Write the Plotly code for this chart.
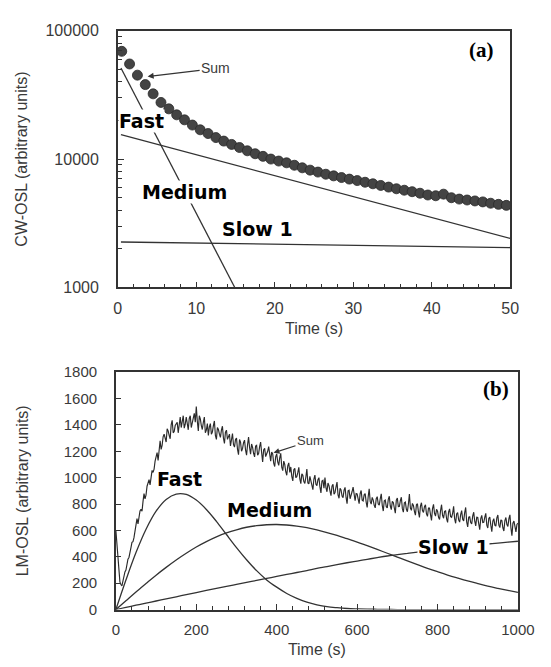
import plotly.graph_objects as go
from plotly.subplots import make_subplots

# ---------------- Panel (a): CW-OSL ----------------
cw_time = [0.5, 1.5, 2.5, 3.5, 4.5, 5.5, 6.5, 7.5, 8.5, 9.5,
           10.5, 11.5, 12.5, 13.5, 14.5, 15.5, 16.5, 17.5, 18.5, 19.5,
           20.5, 21.5, 22.5, 23.5, 24.5, 25.5, 26.5, 27.5, 28.5, 29.5,
           30.5, 31.5, 32.5, 33.5, 34.5, 35.5, 36.5, 37.5, 38.5, 39.5,
           40.5, 41.5, 42.5, 43.5, 44.5, 45.5, 46.5, 47.5, 48.5, 49.5]
cw_sum = [69000, 55000, 45000, 38000, 32200, 27600, 24600, 22100, 20200, 18400,
          16900, 15800, 14700, 13800, 13000, 12300, 11600, 11000, 10500, 10000,
          9650, 9350, 8950, 8550, 8200, 7920, 7620, 7400, 7180, 6980,
          6800, 6600, 6420, 6230, 6050, 5870, 5720, 5570, 5420, 5250,
          5180, 5330, 5000, 4880, 4800, 4720, 4640, 4530, 4440, 4360]
cw_fast_t = [0.4, 14.9]
cw_fast_v = [51200, 1000]
cw_med_t = [0.4, 50]
cw_med_v = [15500, 2410]
cw_slow_t = [0.4, 50]
cw_slow_v = [2260, 2047]

# ---------------- Panel (b): LM-OSL ----------------
lm_comp_t = [0, 25, 50, 75, 100, 125, 150, 175, 200, 225, 250, 275, 300, 325, 350,
             375, 400, 425, 450, 475, 500, 525, 550, 575, 600, 625, 650, 675, 700,
             725, 750, 775, 800, 825, 850, 875, 900, 925, 950, 975, 1000]
lm_fast = [0, 224, 432, 609, 746, 835, 876, 873, 830, 759, 669, 569, 470, 378, 295,
           225, 170, 122, 85, 56, 36, 22, 14, 8, 5, 3, 2, 1, 0,
           0, 0, 0, 0, 0, 0, 0, 0, 0, 0, 0, 0]
lm_medium = [0, 67, 134, 198, 261, 320, 376, 427, 474, 515, 551, 581, 605, 624, 636,
             643, 645, 641, 633, 621, 604, 584, 562, 537, 512, 484, 456, 427, 398,
             369, 341, 313, 287, 262, 239, 217, 197, 178, 161, 145, 130]
lm_slow = [0, 16, 33, 49, 65, 81, 97, 113, 129, 145, 160, 176, 191, 206, 221,
           236, 251, 266, 281, 296, 312, 326, 341, 355, 368, 381, 394, 406, 416,
           426, 436, 446, 455, 464, 473, 481, 489, 497, 504, 511, 518]

# measured sum, one reading every 2.5 s from 0 to 1000 s
lm_sum_t = [i * 2.5 for i in range(401)]
lm_sum = [
    600, 480, 375, 290, 210, 190, 180, 215, 265, 285, 300, 350, 382, 395, 422, 470, 510, 515, 545, 600,
    645, 690, 650, 715, 748, 760, 745, 820, 880, 840, 870, 935, 970, 985, 945, 1030, 1055, 1040, 1065, 1125,
    1175, 1190, 1130, 1235, 1280, 1215, 1245, 1310, 1330, 1300, 1270, 1370, 1355, 1320, 1295, 1400, 1435, 1340, 1350, 1395,
    1410, 1420, 1340, 1395, 1460, 1380, 1430, 1470, 1375, 1405, 1460, 1395, 1363, 1450, 1470, 1380, 1412, 1450, 1487, 1420,
    1540, 1430, 1355, 1470, 1445, 1395, 1365, 1420, 1460, 1340, 1360, 1410, 1320, 1385, 1410, 1330, 1345, 1395, 1430, 1320,
    1290, 1380, 1365, 1330, 1305, 1360, 1390, 1300, 1260, 1345, 1360, 1290, 1315, 1330, 1240, 1300, 1335, 1250, 1232, 1290,
    1300, 1215, 1175, 1290, 1270, 1200, 1220, 1265, 1285, 1210, 1170, 1250, 1307, 1230, 1178, 1255, 1230, 1185, 1157, 1240,
    1245, 1170, 1182, 1235, 1270, 1190, 1120, 1210, 1223, 1160, 1177, 1200, 1235, 1150, 1125, 1195, 1180, 1110, 1085, 1160,
    1180, 1120, 1093, 1150, 1185, 1080, 1053, 1125, 1100, 1045, 1018, 1090, 1112, 1040, 1081, 1010, 975, 1060, 1071, 1000,
    1007, 1040, 1078, 990, 955, 1030, 1018, 970, 956, 1005, 1065, 960, 953, 1010, 983, 940, 909, 990, 1020, 950,
    940, 985, 1000, 930, 885, 975, 980, 920, 1000, 925, 893, 960, 940, 900, 863, 935, 950, 875, 888, 930,
    966, 870, 844, 920, 907, 860, 849, 905, 926, 850, 803, 900, 905, 840, 862, 895, 928, 850, 825, 880,
    877, 840, 803, 880, 903, 830, 824, 870, 880, 815, 775, 855, 915, 820, 800, 850, 830, 790, 771, 840,
    856, 800, 792, 840, 878, 790, 747, 825, 831, 780, 770, 835, 859, 785, 758, 820, 812, 770, 731, 830,
    845, 780, 781, 825, 852, 765, 739, 810, 815, 760, 742, 800, 875, 770, 752, 805, 790, 745, 716, 795,
    802, 740, 699, 785, 810, 750, 737, 780, 795, 725, 707, 770, 770, 720, 676, 765, 798, 730, 709, 760,
    746, 700, 683, 750, 795, 715, 692, 745, 749, 690, 661, 740, 763, 705, 700, 730, 782, 690, 654, 725,
    736, 680, 663, 720, 750, 685, 672, 735, 774, 665, 626, 700, 703, 660, 650, 710, 738, 670, 635, 700,
    698, 650, 606, 690, 714, 660, 662, 700, 730, 640, 618, 690, 702, 640, 590, 670, 689, 640, 633, 695,
    717, 640, 621, 680, 674, 620, 596, 675, 698, 645, 630, 690, 718, 620, 560, 655, 671, 630, 588, 645,
    655]

INK = "#333333"
TXT = "#3a3a3a"
SANS = "Liberation Sans, Arial, sans-serif"
BOLD = "DejaVu Sans, Verdana, sans-serif"
SERIF = "Liberation Serif, Times New Roman, serif"

fig = make_subplots(rows=2, cols=1)

# panel (a)
for tx, ty in [(cw_fast_t, cw_fast_v), (cw_med_t, cw_med_v), (cw_slow_t, cw_slow_v)]:
    fig.add_trace(go.Scatter(x=tx, y=ty, mode="lines",
                             line=dict(color=INK, width=1.3), showlegend=False), row=1, col=1)
fig.add_trace(go.Scatter(x=cw_time, y=cw_sum, mode="markers",
                         marker=dict(color="#444444", size=10,
                                     line=dict(color="#2a2a2a", width=0.8)),
                         showlegend=False), row=1, col=1)

# panel (b)
for comp in [lm_fast, lm_medium, lm_slow]:
    fig.add_trace(go.Scatter(x=lm_comp_t, y=comp, mode="lines", line_shape="spline",
                             line=dict(color=INK, width=1.3), showlegend=False), row=2, col=1)
fig.add_trace(go.Scatter(x=lm_sum_t, y=lm_sum, mode="lines",
                         line=dict(color="#2a2a2a", width=1.15), showlegend=False), row=2, col=1)

W, H = 551, 667
ax_common = dict(showline=True, linecolor=INK, linewidth=1.5, mirror=True,
                 ticks="inside", tickcolor=INK, showgrid=False, zeroline=False,
                 tickfont=dict(family=SANS, size=15, color=TXT))

fig.update_xaxes(**ax_common, ticklabelstandoff=6)
fig.update_yaxes(**ax_common, ticklabelstandoff=14)

title_font = dict(family=SANS, size=16, color=TXT)
fig.update_layout(
    width=W, height=H,
    margin=dict(l=0, r=0, t=0, b=0),
    paper_bgcolor="white", plot_bgcolor="white",
    xaxis=dict(domain=[110 / W, 518 / W], range=[0, 50], dtick=10, ticklen=6,
               minor=dict(dtick=2, ticks="inside", ticklen=4, tickcolor=INK),
               tickfont=dict(size=16),
               title=dict(text="Time (s)", font=title_font, standoff=6)),
    yaxis=dict(domain=[1 - 278 / H, 1 - 14 / H], type="log", range=[3, 5],
               tickvals=[1000, 10000, 100000], ticktext=["1000", "10000", "100000"], ticklen=6,
               minor=dict(tickvals=[2000, 3000, 4000, 5000, 6000, 7000, 8000, 9000,
                                    20000, 30000, 40000, 50000, 60000, 70000, 80000, 90000],
                          ticks="inside", ticklen=4, tickcolor=INK),
               tickfont=dict(size=16),
               title=dict(text="CW-OSL (arbitrary units)", font=title_font, standoff=14)),
    xaxis2=dict(domain=[108 / W, 526 / W], range=[0, 1000], dtick=200, ticklen=6,
                minor=dict(dtick=40, ticks="inside", ticklen=4, tickcolor=INK),
                title=dict(text="Time (s)", font=title_font, standoff=6)),
    yaxis2=dict(domain=[1 - 609 / H, 1 - 365 / H], range=[0, 1800], dtick=200, ticklen=5,
                title=dict(text="LM-OSL (arbitrary units)", font=title_font, standoff=31)),
)

def label(text, x, y, xref, yref, size=19, family=BOLD, bg="white"):
    fig.add_annotation(text="<b>%s</b>" % text, x=x, y=y, xref=xref, yref=yref,
                       showarrow=False, font=dict(family=family, size=size, color="black"),
                       bgcolor=bg, borderpad=0)

# panel (a) labels (log axis: y given as log10 value)
label("Fast", 3.0, 4.30, "x", "y")
label("Medium", 8.5, 3.745, "x", "y")
label("Slow 1", 17.8, 3.456, "x", "y", bg="rgba(0,0,0,0)")
label("(a)", 46.3, 4.848, "x", "y", size=21, family=SERIF, bg="rgba(0,0,0,0)")
fig.add_annotation(text="Sum", x=3.8, y=4.643, xref="x", yref="y",
                   ax=68, ay=-8, showarrow=True, arrowhead=2, arrowsize=1, arrowwidth=1.2,
                   arrowcolor=INK, font=dict(family=SANS, size=14, color=TXT))

# panel (b) labels
label("Fast", 158, 988, "x2", "y2")
label("Medium", 383, 752, "x2", "y2")
label("Slow 1", 840, 472, "x2", "y2")
label("(b)", 945, 1675, "x2", "y2", size=21, family=SERIF, bg="rgba(0,0,0,0)")
fig.add_annotation(text="Sum", x=392, y=1188, xref="x2", yref="y2",
                   ax=37, ay=-12, showarrow=True, arrowhead=2, arrowsize=1, arrowwidth=1.2,
                   arrowcolor=INK, font=dict(family=SANS, size=13, color=TXT))

fig.write_html("out.html")
